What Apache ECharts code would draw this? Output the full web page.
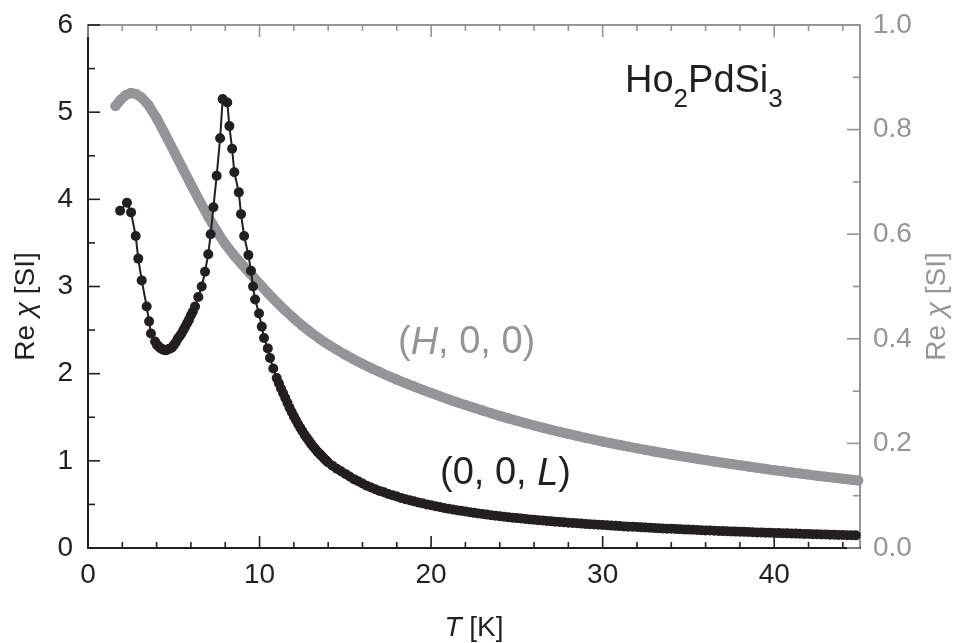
<!DOCTYPE html>
<html>
<head>
<meta charset="utf-8">
<title>Ho2PdSi3 susceptibility</title>
<script src="https://cdn.jsdelivr.net/npm/echarts@6/dist/echarts.min.js"></script>
<style>
  html, body { margin: 0; padding: 0; background: #ffffff; }
  #chart { width: 954px; height: 643px; }
</style>
</head>
<body>
<div id="chart"></div>
<script>
// (0, 0, L) direction: temperature [K] and Re chi [SI], left axis
const tempL = [
  1.87, 2.27, 2.51, 2.78, 2.93, 3.13, 3.42, 3.56, 3.67, 3.91,
  4.02, 4.13, 4.24, 4.35, 4.46, 4.57, 4.68, 4.79, 4.90, 5.01,
  5.12, 5.23, 5.34, 5.45, 5.56, 5.67, 5.78, 5.89, 6.00, 6.11,
  6.24, 6.43, 6.63, 6.82, 7.01, 7.15, 7.31, 7.50, 7.70, 7.85,
  8.12, 8.24, 8.40, 8.53, 8.79, 8.92, 9.10, 9.35, 9.50, 9.62,
  9.74, 9.97, 10.13, 10.26, 10.48, 10.61, 10.80, 11.00,
  11.125, 11.25, 11.375, 11.50, 11.625, 11.75, 11.875, 12.00,
  12.125, 12.25, 12.375, 12.50, 12.625, 12.75, 12.875, 13.00,
  13.125, 13.25, 13.375, 13.50, 13.625, 13.75, 13.875, 14.00,
  14.25, 14.50, 14.75, 15.00, 15.25, 15.50, 15.75, 16.00,
  16.25, 16.50, 16.75, 17.00, 17.25, 17.50, 17.75, 18.00, 18.25, 18.50,
  18.75, 19.00, 19.25, 19.50, 19.75, 20.00, 20.25, 20.50, 20.75, 21.00,
  21.25, 21.50, 21.75, 22.00, 22.25, 22.50, 22.75, 23.00, 23.25, 23.50,
  23.75, 24.00, 24.25, 24.50, 24.75, 25.00, 25.25, 25.50, 25.75, 26.00,
  26.25, 26.50, 26.75, 27.00, 27.25, 27.50, 27.75, 28.00, 28.25, 28.50,
  28.75, 29.00, 29.25, 29.50, 29.75, 30.00, 30.25, 30.50, 30.75, 31.00,
  31.25, 31.50, 31.75, 32.00, 32.25, 32.50, 32.75, 33.00, 33.25, 33.50,
  33.75, 34.00, 34.25, 34.50, 34.75, 35.00, 35.25, 35.50, 35.75, 36.00,
  36.25, 36.50, 36.75, 37.00, 37.25, 37.50, 37.75, 38.00, 38.25, 38.50,
  38.75, 39.00, 39.25, 39.50, 39.75, 40.00, 40.25, 40.50, 40.75, 41.00,
  41.25, 41.50, 41.75, 42.00, 42.25, 42.50, 42.75, 43.00, 43.25, 43.50,
  43.75, 44.00, 44.25, 44.50, 44.75
];
const chiL = [
  3.87, 3.96, 3.85, 3.58, 3.32, 3.07, 2.77, 2.60, 2.46, 2.37,
  2.33, 2.31, 2.29, 2.28, 2.27, 2.27, 2.28, 2.29, 2.30, 2.33,
  2.36, 2.40, 2.43, 2.46, 2.50, 2.54, 2.58, 2.62, 2.67, 2.71,
  2.77, 2.88, 3.00, 3.17, 3.37, 3.60, 3.91, 4.27, 4.70, 5.15,
  5.11, 4.84, 4.58, 4.31, 4.08, 3.83, 3.58, 3.36, 3.18, 3.00,
  2.85, 2.69, 2.54, 2.41, 2.29, 2.18, 2.06, 1.95,
  1.89, 1.83, 1.775, 1.72, 1.665, 1.61, 1.56, 1.51,
  1.465, 1.42, 1.38, 1.34, 1.30, 1.265, 1.23, 1.195,
  1.165, 1.135, 1.105, 1.08, 1.055, 1.03, 1.005, 0.98,
  0.945, 0.91, 0.88, 0.85, 0.82, 0.79, 0.765, 0.74,
  0.715, 0.695, 0.675, 0.655, 0.64, 0.62, 0.605, 0.59, 0.575, 0.56,
  0.548, 0.535, 0.523, 0.512, 0.50, 0.49, 0.48, 0.47, 0.46, 0.45,
  0.442, 0.434, 0.426, 0.418, 0.41, 0.403, 0.396, 0.39, 0.383, 0.377,
  0.371, 0.365, 0.359, 0.354, 0.348, 0.343, 0.338, 0.333, 0.328, 0.324,
  0.319, 0.315, 0.31, 0.306, 0.302, 0.298, 0.294, 0.29, 0.287, 0.283,
  0.28, 0.276, 0.273, 0.27, 0.266, 0.263, 0.26, 0.257, 0.254, 0.251,
  0.248, 0.245, 0.243, 0.24, 0.237, 0.235, 0.232, 0.23, 0.227, 0.225,
  0.222, 0.22, 0.218, 0.215, 0.213, 0.211, 0.209, 0.207, 0.204, 0.202,
  0.20, 0.198, 0.196, 0.194, 0.192, 0.19, 0.188, 0.187, 0.185, 0.183,
  0.181, 0.179, 0.178, 0.176, 0.174, 0.173, 0.171, 0.169, 0.168, 0.166,
  0.165, 0.163, 0.162, 0.16, 0.159, 0.157, 0.156, 0.154, 0.153, 0.151,
  0.15, 0.149, 0.147, 0.146, 0.145
];

// (H, 0, 0) direction: temperature [K] and Re chi [SI], right axis
const tempH = [
  1.6, 1.9, 2.2, 2.5, 2.8, 3.1, 3.5, 4.0, 4.5, 5.0,
  5.5, 6.0, 6.5, 7.0, 7.5, 8.0, 8.5, 9.0, 9.5, 10.0,
  10.5, 11.0, 11.5, 12.0, 12.5, 13.0, 13.5, 14.0, 14.5, 15.0,
  15.5, 16.0, 16.5, 17.0, 17.5, 18.0, 18.5, 19.0, 19.5, 20.0,
  20.5, 21.0, 21.5, 22.0, 22.5, 23.0, 23.5, 24.0, 24.5, 25.0,
  25.5, 26.0, 26.5, 27.0, 27.5, 28.0, 28.5, 29.0, 29.5, 30.0,
  30.5, 31.0, 31.5, 32.0, 32.5, 33.0, 33.5, 34.0, 34.5, 35.0,
  35.5, 36.0, 36.5, 37.0, 37.5, 38.0, 38.5, 39.0, 39.5, 40.0,
  40.5, 41.0, 41.5, 42.0, 42.5, 43.0, 43.5, 44.0, 44.5, 44.9
];
const chiH = [
  0.845, 0.857, 0.866, 0.870, 0.868, 0.862, 0.848, 0.822, 0.791, 0.759,
  0.727, 0.695, 0.664, 0.634, 0.606, 0.581, 0.560, 0.541, 0.523, 0.505,
  0.487, 0.470, 0.454, 0.439, 0.425, 0.412, 0.400, 0.389, 0.379, 0.3695,
  0.3605, 0.352, 0.344, 0.3365, 0.329, 0.322, 0.3153, 0.3088, 0.3025, 0.2963,
  0.2903, 0.2845, 0.2788, 0.2733, 0.268, 0.2627, 0.2576, 0.2526, 0.2478, 0.2432,
  0.2387, 0.2343, 0.2301, 0.226, 0.222, 0.2181, 0.2143, 0.2107, 0.2071, 0.2036,
  0.2002, 0.1969, 0.1937, 0.1905, 0.1875, 0.1845, 0.1816, 0.1787, 0.176, 0.1733,
  0.1707, 0.1681, 0.1655, 0.163, 0.1605, 0.1581, 0.1557, 0.1534, 0.1511, 0.1488,
  0.1466, 0.1445, 0.1424, 0.1403, 0.1383, 0.1363, 0.1343, 0.1324, 0.1305, 0.129
];

// Axis ranges, label steps and tick positions
const xRange = [0, 45];
const xLabelStep = 10;
const leftRange = [0, 6];
const leftLabelStep = 1;
const rightRange = [0, 1];
const rightLabelStep = 0.2;

const xMajorTicks = [0, 10, 20, 30, 40];
const xMinorTicks = [2, 4, 6, 8, 12, 14, 16, 18, 22, 24, 26, 28, 32, 34, 36, 38, 42, 44];
const leftMajorTicks = [0, 1, 2, 3, 4, 5, 6];
const leftMinorTicks = [0.5, 1.5, 2.5, 3.5, 4.5, 5.5];
const rightMajorTicks = [0, 0.2, 0.4, 0.6, 0.8, 1.0];
const rightMinorTicks = [0.1, 0.3, 0.5, 0.7, 0.9];

const INK = '#231f20';
const GREY = '#939598';
const FONT = '"Liberation Sans", Arial, Helvetica, sans-serif';
const TICK_W = 1.6;

function pairs(xs, ys) {
  return xs.map((x, i) => [x, ys[i]]);
}

// Text token for axis names (ECharts label styles)
function labelToken(size, color, italic) {
  return { fontSize: size, fontFamily: FONT, color: color, fontStyle: italic ? 'italic' : 'normal' };
}

// Text token for graphic elements (zrender styles)
function graphicToken(size, color, italic, extra) {
  return Object.assign({
    fontSize: size, fontFamily: FONT, fill: color, fontStyle: italic ? 'italic' : 'normal'
  }, extra || {});
}

function frameLine(color) {
  // keep every axis on its own edge of the frame
  return { show: true, onZero: false, lineStyle: { color: color, width: 2 } };
}

function tickLine(x1, y1, x2, y2, color) {
  return {
    type: 'line',
    shape: { x1: x1, y1: y1, x2: x2, y2: y2 },
    style: { stroke: color, lineWidth: TICK_W }
  };
}

// inward ticks on the bottom (black) and top (grey) edges
function renderXTicks(params, api) {
  const value = api.value(0);
  const major = api.value(1) === 1;
  const len = major ? 12 : 6;
  const bottom = api.coord([value, leftRange[0]]);
  const top = api.coord([value, leftRange[1]]);
  return {
    type: 'group',
    children: [
      tickLine(bottom[0], bottom[1], bottom[0], bottom[1] - len, INK),
      tickLine(top[0], top[1], top[0], top[1] + len, GREY)
    ]
  };
}

// inward ticks on the left edge (black)
function renderLeftTicks(params, api) {
  const value = api.value(1);
  const len = api.value(0) === 1 ? 12 : 7;
  const p = api.coord([xRange[0], value]);
  return tickLine(p[0], p[1], p[0] + len, p[1], INK);
}

// inward ticks on the right edge (grey)
function renderRightTicks(params, api) {
  const value = api.value(1);
  const len = api.value(0) === 1 ? 13 : 7;
  const p = api.coord([xRange[1], value]);
  return tickLine(p[0], p[1], p[0] - len, p[1], GREY);
}

const xTickData = xMajorTicks.map(v => [v, 1]).concat(xMinorTicks.map(v => [v, 0]));
const leftTickData = leftMajorTicks.map(v => [1, v]).concat(leftMinorTicks.map(v => [0, v]));
const rightTickData = rightMajorTicks.map(v => [1, v]).concat(rightMinorTicks.map(v => [0, v]));

const chart = echarts.init(document.getElementById('chart'), null, { renderer: 'canvas' });

chart.setOption({
  animation: false,
  backgroundColor: '#ffffff',
  grid: {
    left: 88, right: 94, top: 25, bottom: 95,
    containLabel: false,
    outerBoundsMode: 'none'
  },
  xAxis: [
    {
      type: 'value', position: 'bottom', min: xRange[0], max: xRange[1], interval: xLabelStep,
      name: '{i|T} [K]', nameLocation: 'middle', nameGap: 66,
      nameTextStyle: {
        fontSize: 28, fontFamily: FONT, color: INK,
        rich: { i: labelToken(28, INK, true) }
      },
      axisLine: frameLine(INK),
      axisTick: { show: false },
      minorTick: { show: false },
      axisLabel: { fontSize: 28, fontFamily: FONT, color: INK, margin: 13, showMaxLabel: false },
      splitLine: { show: false }
    },
    {
      type: 'value', position: 'top', min: xRange[0], max: xRange[1], interval: xLabelStep,
      axisLine: frameLine(GREY),
      axisTick: { show: false },
      minorTick: { show: false },
      axisLabel: { show: false },
      splitLine: { show: false }
    }
  ],
  yAxis: [
    {
      type: 'value', position: 'left', min: leftRange[0], max: leftRange[1], interval: leftLabelStep,
      name: 'Re {i|χ} [SI]', nameLocation: 'middle', nameGap: 48,
      nameTextStyle: {
        fontSize: 28, fontFamily: FONT, color: INK, padding: [0, 40, 0, 0],
        rich: { i: labelToken(28, INK, true) }
      },
      axisLine: frameLine(INK),
      axisTick: { show: false },
      minorTick: { show: false },
      axisLabel: { fontSize: 28, fontFamily: FONT, color: INK, margin: 15 },
      splitLine: { show: false }
    },
    {
      type: 'value', position: 'right', min: rightRange[0], max: rightRange[1], interval: rightLabelStep,
      name: 'Re {i|χ} [SI]', nameLocation: 'middle', nameGap: 58,
      nameTextStyle: {
        fontSize: 28, fontFamily: FONT, color: GREY, padding: [0, 40, 0, 0],
        rich: { i: labelToken(28, GREY, true) }
      },
      axisLine: frameLine(GREY),
      axisTick: { show: false },
      minorTick: { show: false },
      axisLabel: {
        fontSize: 28, fontFamily: FONT, color: GREY, margin: 13,
        formatter: (v) => v.toFixed(1)
      },
      splitLine: { show: false }
    }
  ],
  series: [
    {
      name: '(H, 0, 0)',
      type: 'line',
      xAxisIndex: 0, yAxisIndex: 1,
      data: pairs(tempH, chiH),
      symbol: 'circle', symbolSize: 10, showAllSymbol: true,
      itemStyle: { color: GREY },
      lineStyle: { color: GREY, width: 10, cap: 'round', join: 'round' },
      silent: true,
      z: 2
    },
    {
      name: '(0, 0, L)',
      type: 'line',
      xAxisIndex: 0, yAxisIndex: 0,
      data: pairs(tempL, chiL),
      symbol: 'circle', symbolSize: 10, showAllSymbol: true,
      itemStyle: { color: INK },
      lineStyle: { color: INK, width: 2 },
      silent: true,
      z: 3
    },
    {
      name: 'x ticks',
      type: 'custom',
      xAxisIndex: 0, yAxisIndex: 0,
      data: xTickData,
      renderItem: renderXTicks,
      clip: false, silent: true,
      z: 5
    },
    {
      name: 'left ticks',
      type: 'custom',
      xAxisIndex: 0, yAxisIndex: 0,
      data: leftTickData,
      renderItem: renderLeftTicks,
      clip: false, silent: true,
      z: 5
    },
    {
      name: 'right ticks',
      type: 'custom',
      xAxisIndex: 0, yAxisIndex: 1,
      data: rightTickData,
      renderItem: renderRightTicks,
      clip: false, silent: true,
      z: 5
    }
  ],
  graphic: [
    {
      type: 'text', x: 625, y: 63, z: 10,
      style: {
        text: '{m|Ho}{s|2}{m|PdSi}{s|3}',
        align: 'left', verticalAlign: 'top',
        rich: {
          m: graphicToken(38, INK, false, { verticalAlign: 'top' }),
          s: graphicToken(26, INK, false, { verticalAlign: 'top', padding: [24, 0, 0, 0] })
        }
      }
    },
    {
      type: 'text', x: 398, y: 343, z: 10,
      style: {
        text: '{n|(}{i|H}{n|, 0, 0)}',
        fill: GREY,
        align: 'left', verticalAlign: 'middle',
        rich: { n: graphicToken(38, GREY, false), i: graphicToken(38, GREY, true) }
      }
    },
    {
      type: 'text', x: 440, y: 474, z: 10,
      style: {
        text: '{n|(0, 0, }{i|L}{n|)}',
        fill: INK,
        align: 'left', verticalAlign: 'middle',
        rich: { n: graphicToken(38, INK, false), i: graphicToken(38, INK, true) }
      }
    }
  ]
});
</script>
</body>
</html>
